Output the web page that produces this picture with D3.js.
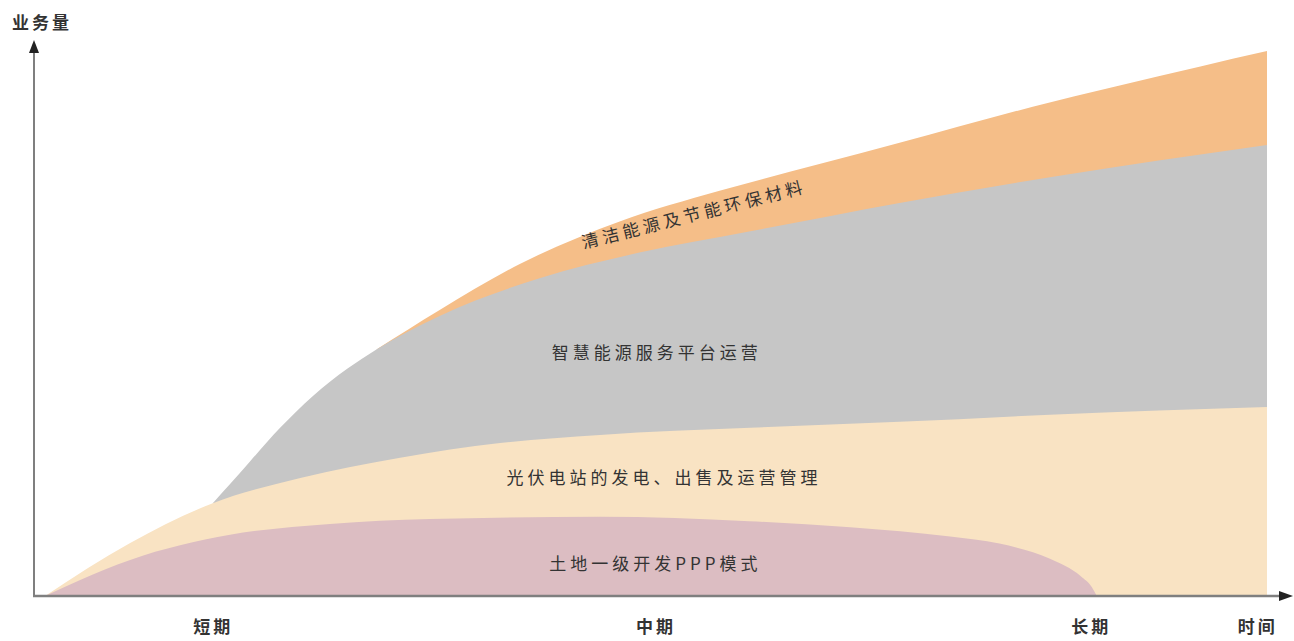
<!DOCTYPE html>
<html>
<head>
<meta charset="utf-8">
<script src="https://cdn.jsdelivr.net/npm/d3@7"></script>
<style>
  body { margin: 0; background: #fff; }
  text { font-family: "Noto Sans CJK SC", "Noto Sans", sans-serif; fill: #333; }
</style>
</head>
<body>
<div id="chart"></div>
<script>
// top edge of each layer: [time, cumulative volume]
var landTop = [[0.9, 0], [3.7, 2.9], [7.8, 6.6], [15.9, 11.2], [24, 13.2], [32.1, 14.1],
    [45.9, 14.5], [58, 13.7], [66.2, 12.6], [74.3, 10.9], [78.3, 9.6], [82.4, 6.8],
    [84.9, 3.6], [85.8, 1.6], [86.2, 0]];
var pvTop = [[0.9, 0], [7.8, 9.7], [14.5, 17], [21.6, 21.6], [29.7, 25.3], [37.8, 28],
    [45.9, 29.5], [58.1, 30.8], [70.2, 31.9], [82.4, 33.2], [100, 34.6]];
var platformTop = [[14.5, 17], [15.9, 20.5], [17.5, 24.6], [20, 30.9], [22.6, 36.6],
    [25.4, 41.6], [27.8, 45.2], [32.9, 51.3], [41, 58.2], [49.1, 62.9], [58.1, 66.8],
    [70.2, 72], [82.4, 76.7], [100, 82.6]];
var cleanTop = [[27.8, 45.2], [32.9, 52.4], [39.4, 60.8], [47.5, 68.6], [55.6, 74.2],
    [63.7, 79.1], [70.2, 83], [81, 89.6], [94.6, 97], [100, 99.8]];

var layerNames = ["清洁能源及节能环保材料", "智慧能源服务平台运营", "光伏电站的发电、出售及运营管理", "土地一级开发PPP模式"];
var stageTicks = [14.5, 50.4, 85.7, 99.2];
var stageLabels = ["短期", "中期", "长期", "时间"];

var width = 1294, height = 641;
var x = d3.scaleLinear().domain([0, 100]).range([34, 1267]);
var y = d3.scaleLinear().domain([0, 100]).range([596, 50]);

var svg = d3.select("#chart").append("svg")
    .attr("width", width)
    .attr("height", height);

var area = d3.area()
    .x(function(d) { return x(d[0]); })
    .y0(y(0))
    .y1(function(d) { return y(d[1]); })
    .curve(d3.curveMonotoneX);

// back to front: biggest layer first
var layers = [
    { data: cleanTop, color: "#f5be88" },
    { data: platformTop, color: "#c6c6c6" },
    { data: pvTop, color: "#f9e3c3" },
    { data: landTop, color: "#dcbdc2" }
];
svg.selectAll(".layer")
    .data(layers)
    .enter().append("path")
    .attr("class", "layer")
    .attr("d", function(d) { return area(d.data); })
    .attr("fill", function(d) { return d.color; });

// axes with arrows
var axisColor = "#7f7f7f";
svg.append("line")
    .attr("x1", x(0)).attr("y1", y(0) + 1)
    .attr("x2", x(0)).attr("y2", 50)
    .attr("stroke", axisColor).attr("stroke-width", 2);
svg.append("path")
    .attr("d", "M" + x(0) + ",40 L" + (x(0) - 5) + ",53 L" + (x(0) + 5) + ",53 Z")
    .attr("fill", "#222");
svg.append("line")
    .attr("x1", x(0) - 1).attr("y1", y(0))
    .attr("x2", 1282).attr("y2", y(0))
    .attr("stroke", axisColor).attr("stroke-width", 2.5);
svg.append("path")
    .attr("d", "M1293," + y(0) + " L1279," + (y(0) - 5) + " L1279," + (y(0) + 5) + " Z")
    .attr("fill", "#222");

// stage labels under the x axis
var xAxis = svg.append("g")
    .attr("transform", "translate(0," + y(0) + ")")
    .call(d3.axisBottom(x).tickValues(stageTicks).tickSize(0).tickPadding(25)
        .tickFormat(function(d, i) { return stageLabels[i]; }));
xAxis.select(".domain").remove();
xAxis.selectAll("text")
    .style("font-family", "'Noto Sans CJK SC', sans-serif")
    .style("font-size", "17px")
    .style("font-weight", "bold")
    .style("letter-spacing", "3px")
    .attr("fill", "#333");

// y axis title
svg.append("text")
    .attr("x", 12).attr("y", 29)
    .style("font-size", "17px")
    .style("font-weight", "bold")
    .style("letter-spacing", "3px")
    .text("业务量");

// labels inside the layers
var labelPos = [
    { t: 53.5, v: 70.1, rot: -14.2 },
    { t: 50.5, v: 44.7, rot: 0 },
    { t: 51.1, v: 21.8, rot: 0 },
    { t: 50.4, v: 6.2, rot: 0 }
];
svg.selectAll(".lbl")
    .data(layerNames)
    .enter().append("text")
    .attr("class", "lbl")
    .attr("text-anchor", "middle")
    .attr("dominant-baseline", "central")
    .attr("transform", function(d, i) {
        var p = labelPos[i];
        return "translate(" + x(p.t) + "," + y(p.v) + ") rotate(" + p.rot + ")";
    })
    .style("font-size", "17px")
    .style("letter-spacing", "4px")
    .text(function(d) { return d; });
</script>
</body>
</html>
